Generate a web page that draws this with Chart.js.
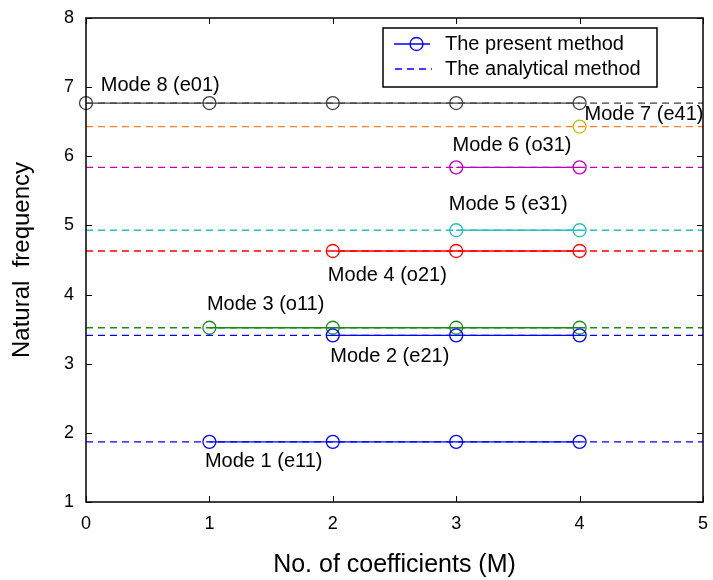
<!DOCTYPE html>
<html lang="en">
<head>
    <meta charset="UTF-8">
    <title>Natural frequency vs. No. of coefficients</title>
    <style>
        body { margin: 0; padding: 0; background: #fff; }
        canvas { display: block; }
    </style>
</head>
<body>
    <canvas id="freqChart" width="713" height="580"></canvas>

    <script src="https://cdn.jsdelivr.net/npm/chart.js"></script>
    <script>
        // x positions (number of coefficients M)
        var coeffs = [0, 1, 2, 3, 4];
        var xTicks = [0, 1, 2, 3, 4, 5];
        var yTicks = [1, 2, 3, 4, 5, 6, 7, 8];

        // present method, one array per mode (null = not computed)
        var mode1Present = [null, 1.87, 1.87, 1.87, 1.87];
        var mode2Present = [null, null, 3.41, 3.41, 3.41];
        var mode3Present = [null, 3.52, 3.52, 3.52, 3.52];
        var mode4Present = [null, null, 4.63, 4.63, 4.63];
        var mode5Present = [null, null, null, 4.93, 4.93];
        var mode6Present = [null, null, null, 5.84, 5.84];
        var mode7Present = [null, null, null, null, 6.43];
        var mode8Present = [6.77, 6.77, 6.77, 6.77, 6.77];

        // analytical values (dashed lines across the whole axis)
        var analytical = [1.87, 3.41, 3.52, 4.63, 4.93, 5.84, 6.43, 6.77];

        var modeNames = ['Mode 1 (e11)', 'Mode 2 (e21)', 'Mode 3 (o11)', 'Mode 4 (o21)',
                         'Mode 5 (e31)', 'Mode 6 (o31)', 'Mode 7 (e41)', 'Mode 8 (e01)'];

        // colours and label anchors (data units)
        var modeColors = ['#0000ff', '#0000ff', '#1a8a1a', '#ff0000',
                          '#25c0c0', '#c000c0', '#c0c000', '#404040'];
        var dashColors = ['#0000ff', '#0000ff', '#1a8a1a', '#ff0000',
                          '#25c0c0', '#c000c0', '#ff7f27', '#404040'];
        var labelAt = [[0.964, 1.58], [1.98, 3.10], [0.98, 3.85], [1.96, 4.28],
                       [2.94, 5.30], [2.97, 6.16], [4.04, 6.60], [0.12, 7.03]];

        var presentSets = [mode1Present, mode2Present, mode3Present, mode4Present,
                           mode5Present, mode6Present, mode7Present, mode8Present];

        var FONT = '"Liberation Sans", Arial, sans-serif';

        var datasets = [];
        analytical.forEach(function (v, i) {
            datasets.push({
                label: 'analytical ' + (i + 1),
                data: [{ x: 0, y: v }, { x: 5, y: v }],
                borderColor: dashColors[i],
                borderWidth: 1.3,
                borderDash: [7, 5],
                pointRadius: 0,
                showLine: true,
                clip: false
            });
        });
        presentSets.forEach(function (arr, i) {
            var pts = [];
            arr.forEach(function (v, k) {
                if (v !== null) pts.push({ x: coeffs[k], y: v });
            });
            datasets.push({
                label: modeNames[i],
                data: pts,
                borderColor: modeColors[i],
                borderWidth: 1.3,
                pointRadius: 6.5,
                pointBorderWidth: 1.3,
                pointBackgroundColor: 'rgba(0,0,0,0)',
                pointBorderColor: modeColors[i],
                showLine: true,
                clip: false
            });
        });

        var frameAndText = {
            id: 'frameAndText',
            afterDraw: function (chart) {
                var c = chart.ctx, a = chart.chartArea;
                var xs = chart.scales.x, ys = chart.scales.y;
                c.save();
                // mode labels
                c.fillStyle = '#000';
                c.font = '20px ' + FONT;
                c.textAlign = 'left';
                c.textBaseline = 'middle';
                modeNames.forEach(function (name, i) {
                    c.fillText(name, xs.getPixelForValue(labelAt[i][0]), ys.getPixelForValue(labelAt[i][1]));
                });
                // box
                c.strokeStyle = '#000';
                c.lineWidth = 1.5;
                c.strokeRect(a.left, a.top, a.right - a.left, a.bottom - a.top);
                // inward ticks
                c.lineWidth = 1;
                yTicks.forEach(function (t) {
                    var py = Math.round(ys.getPixelForValue(t)) + 0.5;
                    c.beginPath();
                    c.moveTo(a.left, py); c.lineTo(a.left + 6, py);
                    c.moveTo(a.right, py); c.lineTo(a.right - 6, py);
                    c.stroke();
                });
                xTicks.forEach(function (t) {
                    var px = Math.round(xs.getPixelForValue(t)) + 0.5;
                    c.beginPath();
                    c.moveTo(px, a.bottom); c.lineTo(px, a.bottom - 6);
                    c.moveTo(px, a.top); c.lineTo(px, a.top + 6);
                    c.stroke();
                });
                // legend
                var lx = 383, ly = 28, lw = 274, lh = 59;
                c.fillStyle = '#fff';
                c.fillRect(lx, ly, lw, lh);
                c.strokeStyle = '#000';
                c.lineWidth = 1.5;
                c.strokeRect(lx, ly, lw, lh);
                c.strokeStyle = '#0000ff';
                c.lineWidth = 1.3;
                c.beginPath();
                c.moveTo(394, 44); c.lineTo(430, 44);
                c.stroke();
                c.beginPath();
                c.arc(416.5, 44, 6.5, 0, Math.PI * 2);
                c.stroke();
                c.setLineDash([7, 5]);
                c.beginPath();
                c.moveTo(395, 69); c.lineTo(432, 69);
                c.stroke();
                c.setLineDash([]);
                c.fillStyle = '#000';
                c.font = '20px ' + FONT;
                c.fillText('The present method', 445, 44);
                c.fillText('The analytical method', 445, 69);
                c.restore();
            }
        };

        new Chart(document.getElementById('freqChart'), {
            type: 'scatter',
            data: { datasets: datasets },
            options: {
                responsive: false,
                animation: false,
                layout: { padding: { top: 18, right: 10, left: 0, bottom: 0 } },
                plugins: { legend: { display: false }, tooltip: { enabled: false } },
                scales: {
                    x: {
                        type: 'linear',
                        min: 0, max: 5,
                        afterBuildTicks: function (s) { s.ticks = xTicks.map(function (v) { return { value: v }; }); },
                        afterFit: function (s) { s.height = 78; s.paddingLeft = 0; s.paddingRight = 0; },
                        grid: { display: false, drawTicks: false },
                        border: { display: false },
                        ticks: { color: '#000', padding: 11, font: { size: 18, family: FONT } },
                        title: { display: true, text: 'No. of coefficients (M)', color: '#000', padding: { top: 0, bottom: 0 },
                                 font: { size: 25, family: FONT } }
                    },
                    y: {
                        type: 'linear',
                        min: 1, max: 8,
                        afterBuildTicks: function (s) { s.ticks = yTicks.map(function (v) { return { value: v }; }); },
                        afterFit: function (s) { s.width = 86; s.paddingTop = 0; s.paddingBottom = 0; },
                        grid: { display: false, drawTicks: false },
                        border: { display: false },
                        ticks: { color: '#000', padding: 12, font: { size: 18, family: FONT } },
                        title: { display: true, text: 'Natural  frequency', color: '#000', padding: { top: 8, bottom: 0 },
                                 font: { size: 24, family: FONT } }
                    }
                }
            },
            plugins: [frameAndText]
        });
    </script>
</body>
</html>
